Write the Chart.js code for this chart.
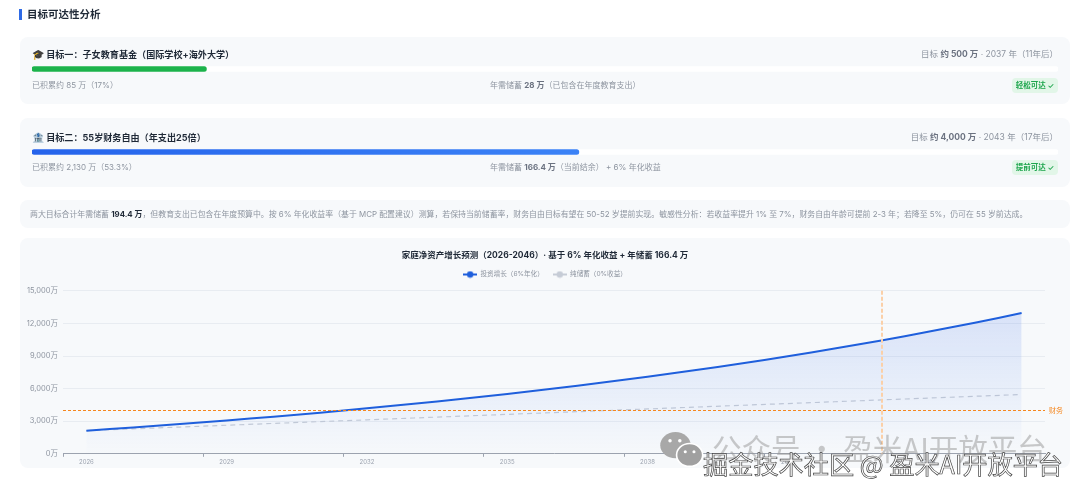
<!DOCTYPE html>
<html lang="zh">
<head>
<meta charset="utf-8">
<title>目标可达性分析</title>
<script src="https://cdn.jsdelivr.net/npm/chart.js@4"></script>
<style>
  * { box-sizing: border-box; }
  html, body { margin: 0; background: #fff; }
  body { width: 1080px; height: 494px; position: relative; overflow: hidden; font-family: Inter, "Noto Sans CJK SC", sans-serif; color: #8e95a0; font-size: 8px; }
  .page { position: absolute; inset: 0; filter: blur(.35px); }
  .heading { position: absolute; left: 19px; top: 9px; height: 11px; border-left: 3px solid #2f6be6; padding-left: 5px; font-size: 10.5px; line-height: 11px; font-weight: 700; color: #1f2937; }
  .card { position: absolute; left: 20px; width: 1050px; background: #f7f9fb; border-radius: 8px; }
  .abs { position: absolute; white-space: nowrap; }
  .name { left: 12px; font-size: 9.1px; line-height: 12px; font-weight: 700; color: #1f2937; }
  .name span { font-size: 10px; }
  .goal { right: 12px; font-size: 8.5px; line-height: 12px; }
  .goal b, .mid b { color: #6b7280; }
  .mid { left: 470px; line-height: 12px; }
  .done { left: 12px; line-height: 12px; }
  .badge { right: 12px; width: 46px; height: 15px; line-height: 15px; text-align: center; background: #e2f6e8; color: #1fa64e; border-radius: 4px; font-size: 7.5px; font-weight: 600; }
  .bar { left: 12px; width: 1026px; height: 6px; }
  .note { left: 10px; top: 8px; line-height: 12px; font-size: 7.9px; }
  .note b { color: #1f2937; }
  .wm { position: absolute; white-space: nowrap; font-family: "Noto Sans CJK SC", sans-serif; }
  .wm1 { left: 712px; top: 429px; font-size: 29.5px; line-height: 36px; color: rgba(150,150,150,.5); }
  .wm2 { left: 703px; top: 448px; font-size: 25.2px; line-height: 30px; color: #fff; -webkit-text-stroke: .7px #444; }
  svg.wx { position: absolute; left: 660px; top: 431px; }
</style>
</head>
<body>
<div class="page">
<div class="heading">目标可达性分析</div>

<div class="card" style="top:37px;height:67px">
  <div class="abs name" style="top:11px"><span>🎓</span> 目标一：子女教育基金（国际学校+海外大学）</div>
  <div class="abs goal" style="top:11px">目标 <b>约 500 万</b> · 2037 年（11年后）</div>
  <div class="abs bar" style="top:29px"><canvas id="goal1"></canvas></div>
  <div class="abs done" style="top:42px">已积累约 85 万（17%）</div>
  <div class="abs mid" style="top:42px">年需储蓄 <b>28 万</b>（已包含在年度教育支出）</div>
  <div class="abs badge" style="top:41px">轻松可达 ✓</div>
</div>

<div class="card" style="top:118px;height:69px">
  <div class="abs name" style="top:13px"><span>🏦</span> 目标二：55岁财务自由（年支出25倍）</div>
  <div class="abs goal" style="top:13px">目标 <b>约 4,000 万</b> · 2043 年（17年后）</div>
  <div class="abs bar" style="top:31px"><canvas id="goal2"></canvas></div>
  <div class="abs done" style="top:43px">已积累约 2,130 万（53.3%）</div>
  <div class="abs mid" style="top:43px">年需储蓄 <b>166.4 万</b>（当前结余） + 6% 年化收益</div>
  <div class="abs badge" style="top:42px">提前可达 ✓</div>
</div>

<div class="card" style="top:200px;height:28px">
  <div class="abs note">两大目标合计年需储蓄 <b>194.4 万</b>，但教育支出已包含在年度预算中。按 6% 年化收益率（基于 MCP 配置建议）测算，若保持当前储蓄率，财务自由目标有望在 50-52 岁提前实现。敏感性分析：若收益率提升 1% 至 7%，财务自由年龄可提前 2-3 年；若降至 5%，仍可在 55 岁前达成。</div>
</div>

<div class="card" style="top:238px;height:230px"><canvas id="wealth"></canvas></div>

<svg class="wx" width="44" height="37" viewBox="0 0 40 34">
  <ellipse cx="14" cy="13" rx="14" ry="12" fill="#a8a8a8"/>
  <ellipse cx="27" cy="22" rx="12" ry="10.5" fill="#a0a0a0" stroke="#fff" stroke-width="1.5"/>
  <circle cx="9" cy="9" r="1.6" fill="#fff"/><circle cx="18" cy="9" r="1.6" fill="#fff"/>
  <circle cx="23" cy="19" r="1.4" fill="#fff"/><circle cx="31" cy="19" r="1.4" fill="#fff"/>
</svg>
<div class="wm wm1">公众号 · 盈米AI开放平台</div>
<div class="wm wm2">掘金技术社区 @ 盈米AI开放平台</div>
</div>

<script>
const years = ['2026','2027','2028','2029','2030','2031','2032','2033','2034','2035','2036','2037','2038','2039','2040','2041','2042','2043','2044','2045','2046'];
const investGrowth = [2130,2424,2736,3067,3417,3788,4182,4600,5042,5511,6008,6535,7093,7685,8313,8978,9683,10430,11223,12062,12952];
const pureSaving = [2130,2296,2463,2629,2796,2962,3128,3295,3461,3628,3794,3960,4127,4293,4460,4626,4792,4959,5125,5292,5458];
const yTicks = [0,3000,6000,9000,12000,15000];
const targetValue = 4000;
const targetYear = '2043';
const targetLabel = '财务';
const goal1Progress = [17];
const goal2Progress = [53.3];

Chart.defaults.font.family = 'Inter, "Noto Sans CJK SC", sans-serif';

function progressBar(id, values, fill) {
  new Chart(document.getElementById(id), {
    type: 'bar',
    data: {
      labels: [''],
      datasets: [
        { data: values, backgroundColor: fill, borderRadius: 3, borderSkipped: false, barThickness: 5 },
        { data: [100], backgroundColor: '#ffffff', borderRadius: 3, borderSkipped: false, barThickness: 5 },
      ],
    },
    options: {
      indexAxis: 'y',
      animation: false,
      responsive: true,
      maintainAspectRatio: false,
      plugins: { legend: { display: false }, tooltip: { enabled: false } },
      scales: {
        x: { display: false, min: 0, max: 100 },
        y: { display: false, stacked: true },
      },
    },
  });
}
progressBar('goal1', goal1Progress, '#1bb24b');
progressBar('goal2', goal2Progress, (c) => {
  const area = c.chart.chartArea;
  if (!area) return '#2563eb';
  const g = c.chart.ctx.createLinearGradient(area.left, 0, c.chart.scales.x.getPixelForValue(goal2Progress[0]), 0);
  g.addColorStop(0, '#2563eb');
  g.addColorStop(1, '#3b82f6');
  return g;
});

// legend key: short line with a dot on it
function legendMarker(color) {
  const c = document.createElement('canvas');
  c.width = 14;
  c.height = 8;
  const ctx = c.getContext('2d');
  ctx.fillStyle = color;
  ctx.fillRect(0, 3, 14, 2);
  ctx.beginPath();
  ctx.arc(7, 4, 3.2, 0, Math.PI * 2);
  ctx.fill();
  return c;
}

// extra gap between legend and plot
const legendGap = {
  id: 'legendGap',
  beforeInit(chart) {
    const fit = chart.legend.fit;
    chart.legend.fit = function () {
      fit.call(this);
      this.height += 3;
    };
  },
};

// target marks, placed through the chart's scales
const targetLines = {
  id: 'targetLines',
  afterDatasetsDraw(chart) {
    const { ctx, chartArea, scales } = chart;
    const y = Math.floor(scales.y.getPixelForValue(targetValue)) + 0.5;
    const x = Math.round(scales.x.getPixelForValue(targetYear)) + 1;
    ctx.save();
    ctx.strokeStyle = '#f5871f';
    ctx.lineWidth = 1;
    ctx.setLineDash([3, 2]);
    ctx.beginPath();
    ctx.moveTo(chartArea.left, y);
    ctx.lineTo(chartArea.right, y);
    ctx.stroke();
    ctx.strokeStyle = '#fbd0a8';
    ctx.lineWidth = 2;
    ctx.setLineDash([4, 2]);
    ctx.beginPath();
    ctx.moveTo(x, chartArea.top);
    ctx.lineTo(x, chartArea.bottom);
    ctx.stroke();
    ctx.setLineDash([]);
    ctx.fillStyle = '#f5871f';
    ctx.font = '7px Inter, "Noto Sans CJK SC", sans-serif';
    ctx.textBaseline = 'middle';
    ctx.fillText(targetLabel, chartArea.right + 4, y);
    ctx.restore();
  },
};

new Chart(document.getElementById('wealth'), {
  type: 'line',
  data: {
    labels: years,
    datasets: [
      {
        label: '投资增长（6%年化）',
        data: investGrowth,
        borderColor: '#1f5fdc',
        borderWidth: 2,
        pointRadius: 0,
        tension: 0.3,
        fill: 'origin',
        backgroundColor: (c) => {
          const area = c.chart.chartArea;
          if (!area) return 'rgba(37,99,235,0.15)';
          const g = c.chart.ctx.createLinearGradient(0, area.top, 0, area.bottom);
          g.addColorStop(0, 'rgba(37,99,235,0.17)');
          g.addColorStop(1, 'rgba(37,99,235,0.005)');
          return g;
        },
      },
      {
        label: '纯储蓄（0%收益）',
        data: pureSaving,
        borderColor: '#c6ccd6',
        backgroundColor: '#c6ccd6',
        borderWidth: 1.2,
        borderDash: [5, 4],
        pointRadius: 0,
        fill: false,
      },
    ],
  },
  plugins: [targetLines, legendGap],
  options: {
    animation: false,
    responsive: true,
    maintainAspectRatio: false,
    layout: { padding: { top: 12, right: 0, bottom: 0, left: 0 } },
    plugins: {
      tooltip: { enabled: false },
      title: {
        display: true,
        text: '家庭净资产增长预测（2026-2046）· 基于 6% 年化收益 + 年储蓄 166.4 万',
        color: '#1f2937',
        font: { size: 8.5, weight: 'bold' },
        padding: { top: 0, bottom: 2 },
      },
      legend: {
        labels: {
          usePointStyle: true,
          pointStyleWidth: 14,
          boxHeight: 8,
          font: { size: 6.6 },
          padding: 9,
          generateLabels(chart) {
            return chart.data.datasets.map((ds, i) => ({
              text: ds.label,
              fontColor: '#8e95a0',
              pointStyle: legendMarker(ds.borderColor),
              lineWidth: 0,
              datasetIndex: i,
            }));
          },
        },
      },
    },
    scales: {
      x: {
        offset: true,
        border: { color: '#9ca3af' },
        grid: {
          offset: true,
          drawOnChartArea: false,
          tickLength: 3,
          color: (c) => (c.index % 3 === 0 ? '#9ca3af' : 'transparent'),
        },
        ticks: {
          autoSkip: false,
          maxRotation: 0,
          padding: 2,
          color: '#9ca3af',
          font: { size: 6 },
          callback(v, i) {
            return i % 3 === 0 ? years[i] : '';
          },
        },
      },
      y: {
        min: 0,
        max: 15000,
        afterFit(scale) { scale.width = 43; },
        afterBuildTicks(scale) { scale.ticks = yTicks.map((value) => ({ value })); },
        border: { display: false },
        grid: { color: '#e8ecf1', drawTicks: false },
        ticks: {
          color: '#8e95a0',
          padding: 5,
          font: { size: 7.5 },
          callback: (v) => v.toLocaleString('en-US') + '万',
        },
      },
      // empty right axis keeps room for the target label while title stays centred on the card
      yRight: {
        position: 'right',
        afterFit(scale) { scale.width = 25; },
        border: { display: false },
        grid: { display: false },
        ticks: { display: false },
      },
    },
  },
});
</script>
</body>
</html>
